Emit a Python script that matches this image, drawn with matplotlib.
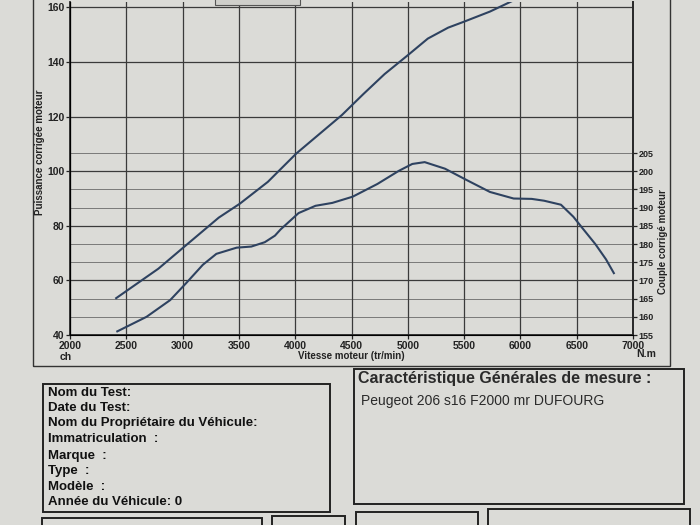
import numpy as np
import matplotlib.pyplot as plt
from matplotlib.patches import Rectangle

plt.rcParams['font.family'] = ['Liberation Sans', 'DejaVu Sans']

power_rpm = [2410, 2785, 3008, 3321, 3508, 3757, 4010, 4260, 4415, 4606, 4794, 5000, 5178, 5358, 5500, 5730, 5950]
power_ch = [53.5, 64.3, 72.1, 83.0, 88.1, 96.1, 106.5, 115.2, 120.6, 128.3, 135.6, 142.5, 148.6, 152.6, 154.8, 158.5, 162.8]

# courbe couple (N.m)
torque_rpm = [2420, 2680, 2890, 3030, 3180, 3300, 3480, 3610, 3730, 3820, 3870, 4030, 4180, 4330, 4510,
              4730, 4920, 5040, 5150, 5330, 5515, 5730, 5940, 6100, 6210, 6360, 6470, 6550, 6665, 6760, 6830]
torque_nm = [156.0, 160.0, 164.6, 169.2, 174.3, 177.3, 179.0, 179.3, 180.5, 182.3, 184.0, 188.5, 190.5, 191.3, 193.0,
             196.5, 200.1, 202.0, 202.5, 200.7, 197.7, 194.3, 192.5, 192.4, 191.9, 190.8, 187.5, 184.4, 180.0, 175.8, 172.0]

rpm_ticks = list(range(2000, 7001, 500))
power_ticks = list(range(40, 161, 20))
torque_ticks = list(range(155, 206, 5))

info_lines = ["Nom du Test:", "Date du Test:", "Nom du Propriétaire du Véhicule:", "Immatriculation  :",
              "Marque  :", "Type  :", "Modèle  :", "Année du Véhicule: 0"]
info_title = "Caractéristique Générales de mesure :"
info_text = "Peugeot 206 s16 F2000 mr DUFOURG"

paper = '#dbdbd7'
ink = '#222222'
curve = '#2e4260'

W, H = 700, 525
def fx(x):
    return x / W
def fy(y):
    return 1 - y / H

fig = plt.figure(figsize=(7, 5.25), dpi=100, facecolor=paper)

# cadre autour du graphique
fig.patches.append(Rectangle((fx(33), fy(366)), fx(670) - fx(33), fy(-10) - fy(366),
                             transform=fig.transFigure, fill=False, ec='#333333', lw=1.0))
# petite case en haut (coupée)
fig.patches.append(Rectangle((fx(215), fy(5)), fx(300) - fx(215), fy(-10) - fy(5),
                             transform=fig.transFigure, fill=True, fc='#cfcfcb', ec='#555555', lw=0.8))

ax = fig.add_axes([fx(70), fy(335), fx(633) - fx(70), fy(2) - fy(335)])
ax.set_facecolor(paper)
ax.set_xlim(2000, 7000)
ax.set_ylim(40, 162)

p_lo, p_hi = 40, 162
t_lo = 155
t_hi = t_lo + (p_hi - p_lo) * 0.75

# grille couple (fine)
for t in torque_ticks:
    ax.axhline(p_lo + (t - t_lo) / 0.75, color='#6a6a6a', lw=0.6, zorder=1)
ax.set_xticks(rpm_ticks)
ax.set_yticks(power_ticks)
ax.grid(True, color='#3a3a3a', lw=0.9, zorder=1)

ax.plot(power_rpm, power_ch, color=curve, lw=1.5, zorder=3)

for s in ['left', 'bottom', 'right']:
    ax.spines[s].set_color('#2a2a2a')
    ax.spines[s].set_linewidth(1.3)
ax.spines['top'].set_visible(False)

ax.tick_params(axis='both', labelsize=7.5, colors=ink, length=3, width=0.9, pad=1)
for lab in ax.get_xticklabels() + ax.get_yticklabels():
    lab.set_fontweight('bold')

ax.set_xlabel("Vitesse moteur (tr/min)", fontsize=7, fontweight='bold', color=ink, labelpad=0)
ax.set_ylabel("Puissance corrigée moteur", fontsize=7, fontweight='bold', color=ink)
ax.yaxis.set_label_coords(-0.044, 0.55)

ax2 = ax.twinx()
ax2.set_ylim(t_lo, t_hi)
ax2.set_yticks(torque_ticks)
ax2.plot(torque_rpm, torque_nm, color=curve, lw=1.5, zorder=3)
ax2.spines['top'].set_visible(False)
ax2.spines['right'].set_color('#2a2a2a')
ax2.spines['right'].set_linewidth(1.3)
ax2.tick_params(axis='y', labelsize=6.5, colors=ink, length=3, width=0.9, pad=1)
for lab in ax2.get_yticklabels():
    lab.set_fontweight('bold')
ax2.set_ylabel("Couple corrigé moteur", fontsize=7, fontweight='bold', color=ink, rotation=90)
ax2.yaxis.label.set_va('top')
ax2.yaxis.set_label_coords(1.045, 0.28)

fig.text(fx(60), fy(357), "ch", fontsize=7.5, fontweight='bold', color=ink, va='center')
fig.text(fx(636), fy(354), "N.m", fontsize=7.5, fontweight='bold', color=ink, va='center')

# cases du bas
fig.patches.append(Rectangle((fx(43), fy(512)), fx(330) - fx(43), fy(384) - fy(512),
                             transform=fig.transFigure, fill=False, ec='#222222', lw=1.4))
fig.patches.append(Rectangle((fx(354), fy(504)), fx(684) - fx(354), fy(369) - fy(504),
                             transform=fig.transFigure, fill=False, ec='#222222', lw=1.4))
for x0, x1, y0 in [(42, 262, 518), (272, 345, 516), (356, 478, 512), (488, 690, 509)]:
    fig.patches.append(Rectangle((fx(x0), fy(540)), fx(x1) - fx(x0), fy(y0) - fy(540),
                                 transform=fig.transFigure, fill=False, ec='#222222', lw=1.4))

ys = [393, 408, 423, 439, 456, 471, 487, 502]
for txt, y in zip(info_lines, ys):
    fig.text(fx(48), fy(y), txt, fontsize=9.5, fontweight='bold', color='#111111', va='center')

fig.text(fx(358), fy(379), info_title, fontsize=11.5, fontweight='bold', color='#2a2a2a', va='center')
fig.text(fx(361), fy(401), info_text, fontsize=10, color='#2a2a2a', va='center')

fig.savefig('out.png', dpi=100, facecolor=paper)
